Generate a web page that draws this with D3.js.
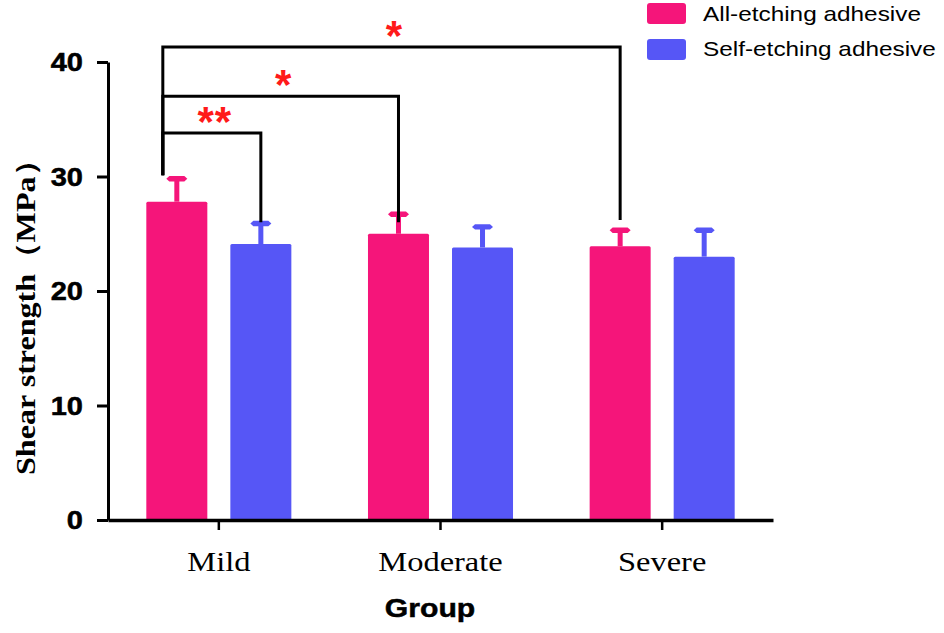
<!DOCTYPE html>
<html>
<head>
<meta charset="utf-8">
<script src="https://cdn.jsdelivr.net/npm/d3@7"></script>
<style>
  body { margin: 0; background: #fff; }
  svg { display: block; }
</style>
</head>
<body>
<svg id="chart" width="944" height="633"></svg>
<script>
// ---- data ----
const categories = ["Mild", "Moderate", "Severe"];
const seriesNames = ["All-etching adhesive", "Self-etching adhesive"];
const allEtching = [27.8, 25.0, 23.9];
const allEtchingSD = [2.0, 1.7, 1.4];
const selfEtching = [24.1, 23.8, 23.0];
const selfEtchingSD = [1.8, 1.8, 2.3];
const yTicks = [0, 10, 20, 30, 40];
// significance brackets: from group/series to group/series, bracket height (MPa), label
const bracketFrom = ["Mild", "All-etching adhesive"];
const bracketTo = [["Mild", "Self-etching adhesive"], ["Moderate", "All-etching adhesive"], ["Severe", "All-etching adhesive"]];
const bracketLevel = [33.8, 37.0, 41.3];
const bracketLeftEnd = 30.1;
const bracketRightEnd = [26.0, 26.0, 26.2];
const bracketLabels = ["**", "*", "*"];

// ---- styles ----
const colors = ["#F5157A", "#5656F6"];
const svg = d3.select("#chart");
const sx = 1.16; // horizontal stretch of text in the reference

const x0 = d3.scaleBand().domain(categories).range([108, 773]).paddingInner(0).paddingOuter(0);
const x1 = d3.scaleBand().domain(seriesNames).range([0, x0.bandwidth()]).paddingInner(0.274).paddingOuter(0.456);
const y = d3.scaleLinear().domain([0, 40]).range([520, 62]);

const rows = [];
categories.forEach((c, i) => {
  rows.push({cat: c, ser: seriesNames[0], v: allEtching[i], sd: allEtchingSD[i], col: colors[0]});
  rows.push({cat: c, ser: seriesNames[1], v: selfEtching[i], sd: selfEtchingSD[i], col: colors[1]});
});
const cx = (cat, ser) => x0(cat) + x1(ser) + x1.bandwidth() / 2;

// error bars (drawn first so bars overlap stems)
const eb = svg.append("g");
rows.forEach(r => {
  const xc = cx(r.cat, r.ser);
  const yc = y(r.v + r.sd);
  eb.append("rect").attr("x", xc - 2.5).attr("y", yc).attr("width", 5)
    .attr("height", y(r.v) - yc).attr("fill", r.col);
  eb.append("path")
    .attr("d", `M${xc - 10.5},${yc} L${xc - 7.5},${yc - 2.7} L${xc + 7.5},${yc - 2.7} L${xc + 10.5},${yc} L${xc + 7.5},${yc + 2.7} L${xc - 7.5},${yc + 2.7} Z`)
    .attr("fill", r.col);
});

// bars
svg.append("g").selectAll("rect").data(rows).join("rect")
  .attr("x", d => x0(d.cat) + x1(d.ser))
  .attr("y", d => y(d.v))
  .attr("width", x1.bandwidth())
  .attr("height", d => y(0) - y(d.v))
  .attr("rx", 1.5)
  .attr("fill", d => d.col);

// y axis
const yAxis = svg.append("g").attr("transform", "translate(108,0)")
  .call(d3.axisLeft(y).tickValues(yTicks).tickSize(11).tickSizeOuter(0).tickPadding(14));
yAxis.select(".domain").attr("stroke", "#000").attr("stroke-width", 3);
yAxis.selectAll(".tick line").attr("stroke", "#000").attr("stroke-width", 3);
yAxis.selectAll(".tick text")
  .attr("font-family", "Arial, 'Liberation Sans', sans-serif")
  .attr("font-weight", "bold").attr("font-size", 25).attr("fill", "#000")
  .attr("stroke", "#000").attr("stroke-width", 0.5)
  .attr("text-anchor", "end").attr("x", null).attr("dy", null)
  .attr("dominant-baseline", "central")
  .attr("transform", `translate(-25,0) scale(${sx},1)`);

// x axis
const xAxis = svg.append("g").attr("transform", `translate(0,${y(0)})`)
  .call(d3.axisBottom(x0).tickSize(10).tickSizeOuter(0).tickPadding(26));
xAxis.select(".domain").attr("stroke", "#000").attr("stroke-width", 3.5);
xAxis.selectAll(".tick line").attr("stroke", "#000").attr("stroke-width", 2.5);
xAxis.selectAll(".tick text")
  .attr("font-family", "'Times New Roman', 'Liberation Serif', serif")
  .attr("font-size", 28).attr("fill", "#000")
  .attr("y", null).attr("dy", null)
  .attr("transform", `translate(0,51) scale(${sx},1)`);

// axis titles
svg.append("text").text("Group")
  .attr("font-family", "Arial, 'Liberation Sans', sans-serif")
  .attr("font-weight", "bold").attr("font-size", 26).attr("text-anchor", "middle")
  .attr("stroke", "#000").attr("stroke-width", 0.5)
  .attr("transform", `translate(430,617) scale(${sx},1)`);

svg.append("text").text("Shear strength（MPa）")
  .attr("font-family", "'Times New Roman', 'Liberation Serif', serif")
  .attr("font-weight", "bold").attr("font-size", 24).attr("text-anchor", "middle")
  .attr("textLength", 330).attr("lengthAdjust", "spacingAndGlyphs")
  .attr("transform", "translate(35,310) rotate(-90) scale(1,1.12)");

// brackets
const bg = svg.append("g");
bracketTo.forEach((t, i) => {
  const xl = cx(bracketFrom[0], bracketFrom[1]) - 14;
  const xr = cx(t[0], t[1]);
  const yl = y(bracketLevel[i]);
  bg.append("path")
    .attr("d", `M${xl},${y(bracketLeftEnd)} L${xl},${yl} L${xr},${yl} L${xr},${y(bracketRightEnd[i])}`)
    .attr("fill", "none").attr("stroke", "#000").attr("stroke-width", 3);
  bg.append("text").text(bracketLabels[i])
    .attr("x", (xl + xr) / 2 + 3).attr("y", yl + 3)
    .attr("font-family", "Arial, 'Liberation Sans', sans-serif")
    .attr("font-weight", "bold").attr("font-size", 42).attr("fill", "#FF1A1A")
    .attr("text-anchor", "middle").attr("letter-spacing", 1);
});

// legend
const lg = svg.append("g");
seriesNames.forEach((s, i) => {
  lg.append("rect").attr("x", 647).attr("y", 3 + i * 36).attr("width", 39).attr("height", 21)
    .attr("rx", 3).attr("fill", colors[i]);
  lg.append("text").text(s)
    .attr("font-family", "Arial, 'Liberation Sans', sans-serif")
    .attr("font-size", 21).attr("fill", "#000")
    .attr("transform", `translate(703,${21 + i * 35}) scale(${sx},1)`);
});
</script>
</body>
</html>
